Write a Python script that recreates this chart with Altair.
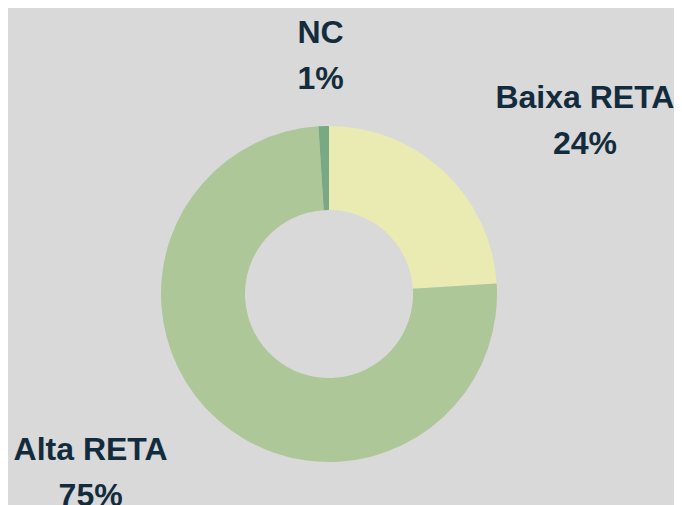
import altair as alt
import pandas as pd

categories = ["Baixa RETA", "Alta RETA", "NC"]
values = [24, 75, 1]
colors = ["#e9ebb3", "#adc799", "#78a884"]

df = pd.DataFrame({
    "cat": categories,
    "val": values,
    "order": list(range(len(categories))),
    "label": [f"{c}\n{v}%" for c, v in zip(categories, values)],
})

CX, CY = 321, 286
theta_scale = alt.Scale(domain=[0, sum(values)])

base = alt.Chart(df).transform_stack(
    stack="val", as_=["v0", "v1"], groupby=[], sort=[alt.SortField("order")]
).transform_calculate(
    mid="(datum.v0 + datum.v1) / 2"
).encode(
    x=alt.value(CX),
    y=alt.value(CY),
)

arcs = base.mark_arc(radius=168, radius2=84).encode(
    theta=alt.Theta("v0:Q", scale=theta_scale),
    theta2="v1:Q",
    color=alt.Color("cat:N", scale=alt.Scale(domain=categories, range=colors), legend=None),
)

label_dx = {"Baixa RETA": 93, "Alta RETA": -81, "NC": -1}
text_layers = []
for c in categories:
    t = base.transform_filter(alt.datum.cat == c).mark_text(
        radius=238, dx=label_dx[c], dy=-23, font="Liberation Sans", fontWeight="bold",
        fontSize=32, color="#132c3d", lineBreak="\n", lineHeight=46,
        align="center", baseline="middle",
    ).encode(
        theta=alt.Theta("mid:Q", scale=theta_scale),
        text="label:N",
    )
    text_layers.append(t)

chart = alt.layer(arcs, *text_layers).properties(
    width=666, height=497, padding=0, autosize=alt.AutoSizeParams(type="none"),
    background="#d9d9d9",
).configure_view(stroke=None)

chart.save("out.html", embed_options={"renderer": "svg", "actions": False})
